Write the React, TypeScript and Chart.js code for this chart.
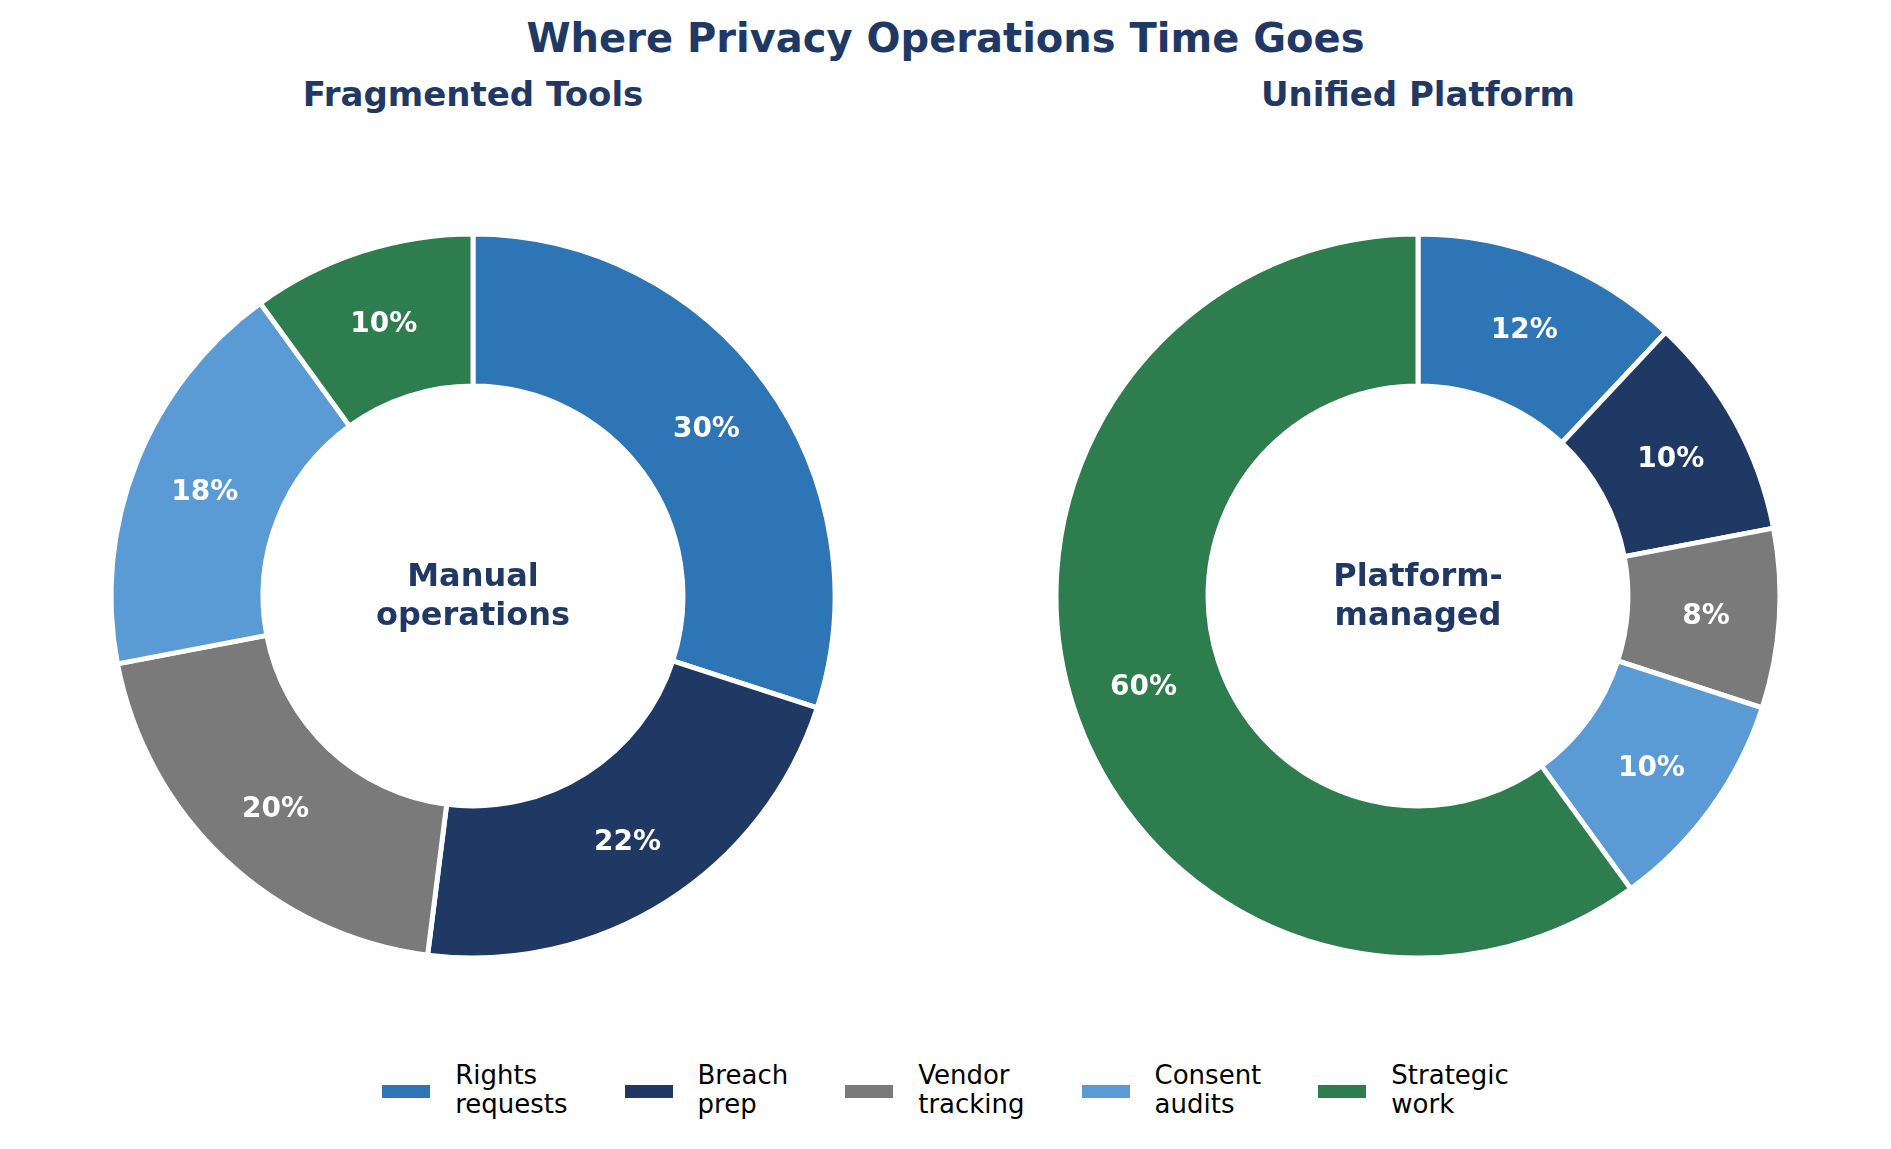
import React, { useEffect, useRef } from 'react';
import { Chart, DoughnutController, ArcElement } from 'chart.js';

Chart.register(DoughnutController, ArcElement);

const categories = ['Rights\nrequests', 'Breach\nprep', 'Vendor\ntracking', 'Consent\naudits', 'Strategic\nwork'];
const fragmentedShares = [30, 22, 20, 18, 10];
const unifiedShares = [12, 10, 8, 10, 60];
const sliceColors = ['#2E75B6', '#1F3864', '#7A7A7A', '#5B9BD5', '#2E7D4F'];

const FONT = "'DejaVu Sans', sans-serif";
const NAVY = '#1F3864';

interface DonutProps {
  values: number[];
  centerLines: string[];
  cx: number;
  cy: number;
}

const BOX = 740;

const Donut: React.FC<DonutProps> = ({ values, centerLines, cx, cy }) => {
  const canvasRef = useRef<HTMLCanvasElement | null>(null);

  useEffect(() => {
    if (!canvasRef.current) return;
    const ctx = canvasRef.current.getContext('2d');
    if (!ctx) return;

    // percent labels + text in the hole
    const labelPlugin = {
      id: 'donutLabels',
      afterDatasetsDraw(chart: Chart) {
        const c = chart.ctx;
        const arcs = chart.getDatasetMeta(0).data as any[];
        c.save();
        c.textAlign = 'center';
        c.textBaseline = 'middle';
        c.fillStyle = '#ffffff';
        c.font = `bold 28px ${FONT}`;
        arcs.forEach((arc, i) => {
          const p = arc.getProps(['x', 'y', 'startAngle', 'endAngle', 'outerRadius'], true);
          const mid = (p.startAngle + p.endAngle) / 2;
          const r = p.outerRadius * 0.797;
          c.fillText(`${values[i]}%`, p.x + Math.cos(mid) * r, p.y + Math.sin(mid) * r + 3);
        });

        const first = arcs[0];
        if (first) {
          const { x, y } = first.getProps(['x', 'y'], true);
          c.fillStyle = NAVY;
          c.font = `bold 32px ${FONT}`;
          c.textBaseline = 'alphabetic';
          c.fillText(centerLines[0], x, y - 10);
          c.fillText(centerLines[1], x, y + 29);
        }
        c.restore();
      },
    };

    const chart = new Chart(ctx, {
      type: 'doughnut',
      plugins: [labelPlugin],
      data: {
        labels: categories,
        datasets: [{
          data: values,
          backgroundColor: sliceColors,
          borderColor: '#ffffff',
          borderWidth: 5,
          hoverBorderWidth: 5,
          hoverOffset: 0,
          offset: 0,
        }],
      },
      options: {
        responsive: true,
        maintainAspectRatio: false,
        animation: false,
        radius: 362,
        cutout: '58%',
        layout: { padding: 0 },
        events: [],
        plugins: {
          legend: { display: false },
          tooltip: { enabled: false },
        },
      } as any,
    });

    return () => {
      chart.destroy();
    };
  }, [values, centerLines]);

  return (
    <div
      style={{
        position: 'absolute',
        left: cx - BOX / 2,
        top: cy - BOX / 2,
        width: BOX,
        height: BOX,
      }}
    >
      <canvas ref={canvasRef} />
    </div>
  );
};

const textStyle = (cx: number, capMid: number, size: number, bold: boolean): React.CSSProperties => ({
  position: 'absolute',
  left: cx - 600,
  width: 1200,
  top: capMid - size * 0.48,
  textAlign: 'center',
  fontFamily: FONT,
  fontSize: size,
  lineHeight: `${size}px`,
  fontWeight: bold ? 'bold' : 'normal',
  color: NAVY,
  whiteSpace: 'nowrap',
});

export default function App() {
  return (
    <div
      style={{
        position: 'absolute',
        left: 0,
        top: 0,
        width: 1891,
        height: 1149,
        background: '#ffffff',
        overflow: 'hidden',
      }}
    >
      <div style={textStyle(945.5, 37, 40, true)}>Where Privacy Operations Time Goes</div>
      <div style={textStyle(473, 93, 34, true)}>Fragmented Tools</div>
      <div style={textStyle(1418, 93, 34, true)}>Unified Platform</div>

      <Donut values={fragmentedShares} centerLines={['Manual', 'operations']} cx={473} cy={596} />
      <Donut values={unifiedShares} centerLines={['Platform-', 'managed']} cx={1418} cy={596} />

      {/* legend */}
      <div
        style={{
          position: 'absolute',
          left: 0,
          width: 1891,
          top: 1060,
          height: 60,
          display: 'flex',
          justifyContent: 'center',
          alignItems: 'center',
          gap: 57,
          paddingLeft: 0,
          boxSizing: 'border-box',
          fontFamily: FONT,
          fontSize: 26,
          lineHeight: '29px',
          color: '#000000',
        }}
      >
        {categories.map((cat, i) => (
          <div key={cat} style={{ display: 'flex', alignItems: 'center' }}>
            <span
              style={{
                display: 'inline-block',
                width: 48,
                height: 13,
                marginRight: 25,
                marginTop: 2,
                backgroundColor: sliceColors[i],
              }}
            />
            <span style={{ whiteSpace: 'pre' }}>{cat}</span>
          </div>
        ))}
      </div>
    </div>
  );
}
